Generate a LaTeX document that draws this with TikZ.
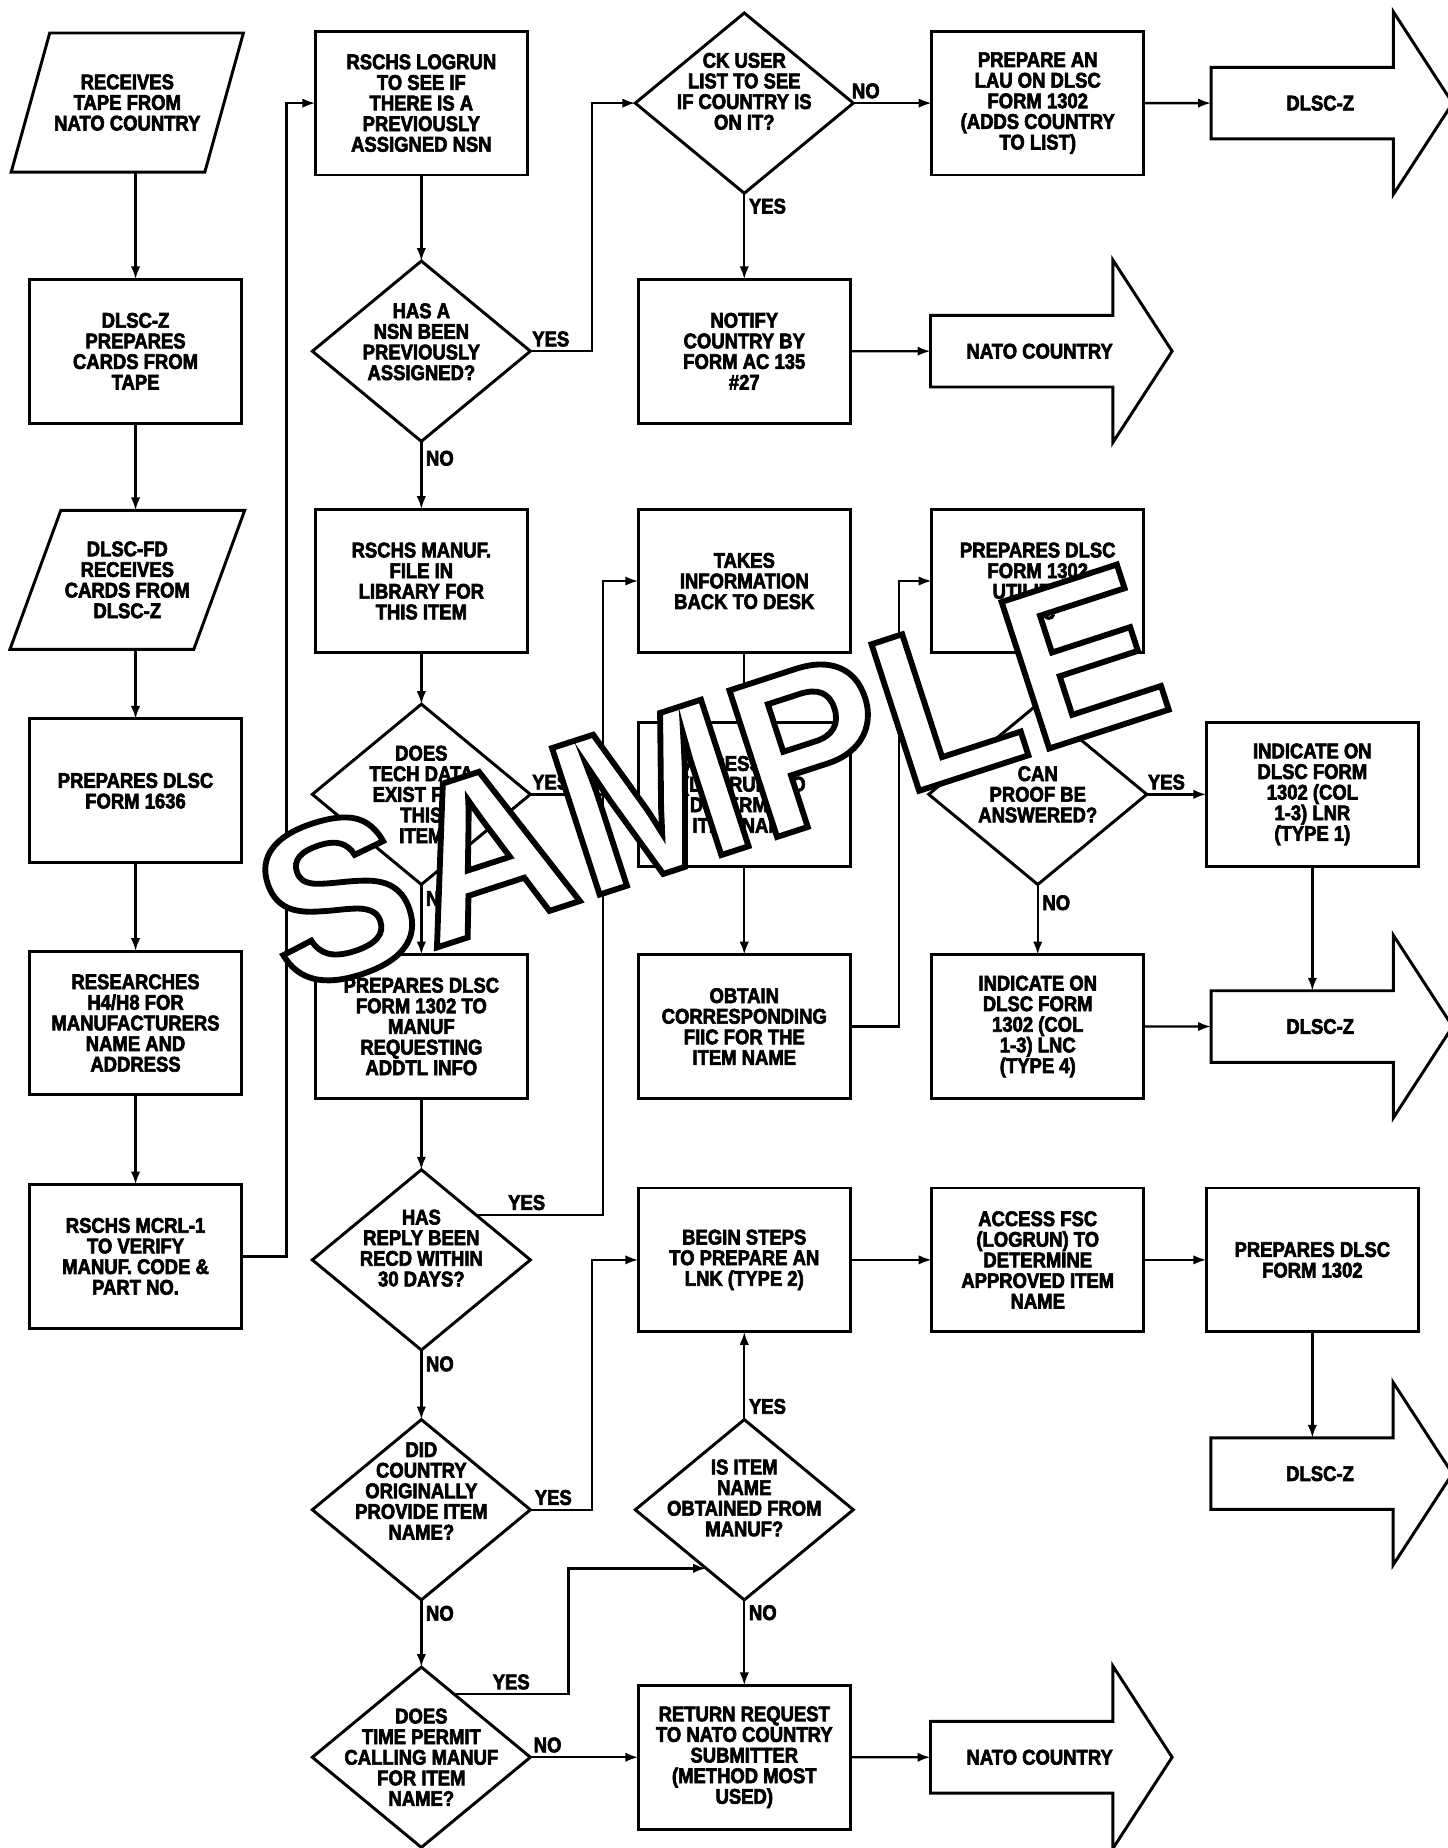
\documentclass[tikz,border=0pt]{standalone}
\usepackage{fontspec}
\setmainfont{Liberation Sans}[FakeStretch=0.87, FakeBold=3]
\newfontfamily\stampfont{Liberation Sans}[FakeBold=2.6]
\usepackage{tikz}
\usetikzlibrary{arrows.meta, positioning, calc, shapes.geometric, shapes.arrows}

\begin{document}
\begin{tikzpicture}[
  x=1pt, y=1pt,
  every node/.style={font=\fontsize{18}{17.5}\selectfont\bfseries},
  box/.style={rectangle, draw, line width=2.5pt, outer sep=0pt, minimum width=180pt,
              minimum height=122pt, align=center, inner sep=2pt},
  io/.style={trapezium, trapezium left angle=59, trapezium right angle=121,
             trapezium stretches body=true, draw, line width=2.5pt, outer sep=0pt,
             minimum width=197pt, minimum height=118pt, align=center},
  decision/.style={diamond, draw, line width=2.5pt, outer sep=0pt, inner sep=0pt,
                   minimum width=185pt, minimum height=153pt},
  dtext/.style={align=center, inner sep=0pt},
  exit/.style={single arrow, draw, line width=2.5pt, outer sep=0pt, minimum height=205pt,
               minimum width=155pt, single arrow head extend=17pt,
               single arrow tip angle=114, align=center},
  arr/.style={-{Latex[length=11pt,width=8pt]}, line width=2pt},
  lbl/.style={inner sep=3pt},
  stamp/.style={font=\stampfont\fontsize{190}{190}\selectfont\bfseries,
                rotate=18, inner sep=0pt, text=white},
]
\useasboundingbox (0,0) rectangle (1228,1568);

% first column
\node[io] (recv) at (108,1481) {RECEIVES\\TAPE FROM\\NATO COUNTRY};
\node[box, below=91pt of recv, xshift=7pt] (cards) {DLSC-Z\\PREPARES\\CARDS FROM\\TAPE};
\node[io, below=74pt of cards, xshift=-7pt] (fdrecv) {DLSC-FD\\RECEIVES\\CARDS FROM\\DLSC-Z};
\node[box, below=59pt of fdrecv, xshift=7pt] (form1636) {PREPARES DLSC\\FORM 1636};
\node[box, below=75pt of form1636] (research) {RESEARCHES\\H4/H8 FOR\\MANUFACTURERS\\NAME AND\\ADDRESS};
\node[box, below=76pt of research] (mcrl) {RSCHS MCRL-1\\TO VERIFY\\MANUF. CODE \&\\PART NO.};

% second column
\node[decision, right=60pt of cards,
      label={[dtext, yshift=8pt]center:{HAS A\\NSN BEEN\\PREVIOUSLY\\ASSIGNED?}}] (assigned) {};
\node[box, above=73pt of assigned] (logrun) {RSCHS LOGRUN\\TO SEE IF\\THERE IS A\\PREVIOUSLY\\ASSIGNED NSN};
\node[box, below=57.5pt of assigned] (library) {RSCHS MANUF.\\FILE IN\\LIBRARY FOR\\THIS ITEM};
\node[decision, below=43.5pt of library,
      label={[dtext]center:{DOES\\TECH DATA\\EXIST FOR\\THIS\\ITEM}}] (techdata) {};
\node[box, below=59.5pt of techdata] (addtl) {PREPARES DLSC\\FORM 1302 TO\\MANUF\\REQUESTING\\ADDTL INFO};
\node[decision, below=60.5pt of addtl,
      label={[dtext, yshift=10pt]center:{HAS\\REPLY BEEN\\RECD WITHIN\\30 DAYS?}}] (reply) {};
\node[decision, below=59pt of reply,
      label={[dtext, yshift=16pt]center:{DID\\COUNTRY\\ORIGINALLY\\PROVIDE ITEM\\NAME?}}] (provide) {};
\node[decision, below=57pt of provide,
      label={[dtext]center:{DOES\\TIME PERMIT\\CALLING MANUF\\FOR ITEM\\NAME?}}] (calling) {};

% third column
\node[decision, right=91.5pt of logrun,
      label={[dtext, yshift=10pt]center:{CK USER\\LIST TO SEE\\IF COUNTRY IS\\ON IT?}}] (userlist) {};
\node[box, right=91.5pt of assigned] (notify) {NOTIFY\\COUNTRY BY\\FORM AC 135\\\#27};
\node[box, right=94pt of library] (takes) {TAKES\\INFORMATION\\BACK TO DESK};
\node[box, right=91.5pt of techdata] (accessfsc) {ACCESS FSC\\(LOGRUN) TO\\DETERMINE\\ITEM NAME};
\node[box, right=94pt of addtl] (obtain) {OBTAIN\\CORRESPONDING\\FIIC FOR THE\\ITEM NAME};
\node[box, right=91.5pt of reply] (begin) {BEGIN STEPS\\TO PREPARE AN\\LNK (TYPE 2)};
\node[decision, right=89pt of provide,
      label={[dtext, yshift=10pt]center:{IS ITEM\\NAME\\OBTAINED FROM\\MANUF?}}] (obtained) {};
\node[box, right=91.5pt of calling] (returnreq) {RETURN REQUEST\\TO NATO COUNTRY\\SUBMITTER\\(METHOD MOST\\USED)};

% fourth column
\node[box, right=66.5pt of userlist] (lau) {PREPARE AN\\LAU ON DLSC\\FORM 1302\\(ADDS COUNTRY\\TO LIST)};
\node[exit, right=68pt of notify] (nato1) {NATO COUNTRY};
\node[box, right=69pt of takes] (utilizing) {PREPARES DLSC\\FORM 1302\\UTILIZING\\FIIC};
\node[decision, right=66.5pt of accessfsc,
      label={[dtext]center:{CAN\\PROOF BE\\ANSWERED?}}] (proof) {};
\node[box, right=69pt of obtain] (lnc) {INDICATE ON\\DLSC FORM\\1302 (COL\\1-3) LNC\\(TYPE 4)};
\node[box, right=69pt of begin] (approved) {ACCESS FSC\\(LOGRUN) TO\\DETERMINE\\APPROVED ITEM\\NAME};
\node[exit, right=68pt of returnreq] (nato2) {NATO COUNTRY};

% fifth column
\node[exit, right=57pt of lau] (dlsc1) {DLSC-Z};
\node[box, right=50.5pt of proof] (lnr) {INDICATE ON\\DLSC FORM\\1302 (COL\\1-3) LNR\\(TYPE 1)};
\node[exit, right=57pt of lnc] (dlsc2) {DLSC-Z};
\node[box, right=53pt of approved] (form1302) {PREPARES DLSC\\FORM 1302};
\node[exit, below=90pt of form1302, xshift=6.5pt] (dlsc3) {DLSC-Z};

% connectors
\draw[arr] (recv.south -| cards.north) -- (cards.north);
\draw[arr] (cards) -- (cards.south |- fdrecv.north);
\draw[arr] (fdrecv.south -| form1636.north) -- (form1636);
\draw[arr] (form1636) -- (research);
\draw[arr] (research) -- (mcrl);
\draw[arr] (mcrl.east) -- ++(38,0) |- (logrun.west);
\draw[arr] (logrun) -- (assigned);
\draw[arr] (assigned) -- node[lbl, right, pos=0.25]{NO} (library);
\draw[arr] (assigned.east) -- node[lbl, above, pos=0.33]{YES} ++(52.5,0) |- (userlist.west);
\draw[arr] (userlist) -- node[lbl, above, pos=0.16]{NO} (lau);
\draw[arr] (userlist) -- node[lbl, right, pos=0.15]{YES} (notify);
\draw[arr] (notify) -- (nato1);
\draw[arr] (lau) -- (dlsc1);
\draw[arr] (library) -- (techdata);
\draw[arr] (techdata.east) -- node[lbl, above, pos=0.28]{YES} ++(61.5,0) |- (takes.west);
\draw[arr] (techdata) -- node[lbl, right, pos=0.2]{NO} (addtl);
\draw[arr] (addtl) -- (reply);
\draw[line width=2pt] (reply.north east) -| node[lbl, above, pos=0.2]{YES} ([xshift=61.5pt]techdata.east);
\draw[arr] (reply) -- node[lbl, right, pos=0.2]{NO} (provide);
\draw[arr] (provide.east) -- node[lbl, above, pos=0.37]{YES} ++(52.5,0) |- (begin.west);
\draw[arr] (provide) -- node[lbl, right, pos=0.2]{NO} (calling);
\draw[arr] ($(calling.north)!0.3!(calling.east)$) -- node[lbl, above]{YES} ++(97,0)
           |- ($(obtained.west)!0.65!(obtained.south)$);
\draw[arr] (calling) -- node[lbl, above, pos=0.16]{NO} (returnreq);
\draw[arr] (takes) -- (accessfsc);
\draw[arr] (accessfsc) -- (obtain);
\draw[arr] (obtain.east) -- ++(41,0) |- (utilizing.west);
\draw[arr] (begin) -- (approved);
\draw[arr] (approved) -- (form1302);
\draw[arr] (obtained) -- node[lbl, right, pos=0.15]{YES} (begin);
\draw[arr] (obtained) -- node[lbl, right, pos=0.15]{NO} (returnreq);
\draw[arr] (returnreq) -- (nato2);
\draw[arr] (utilizing) -- (proof);
\draw[arr] (proof) -- node[lbl, above, pos=0.33]{YES} (lnr);
\draw[arr] (proof) -- node[lbl, right, pos=0.26]{NO} (lnc);
\draw[arr] (lnr.south) -- (lnr.south |- dlsc2.north);
\draw[arr] (lnc) -- (dlsc2);
\draw[arr] (form1302.south) -- (form1302.south |- dlsc3.north);

% stamp across the sheet: white letters, black stroke
\node[stamp] (sample) at (602,908) {\special{pdf:literal direct 0 G}SAMPLE};
\end{tikzpicture}
\end{document}
